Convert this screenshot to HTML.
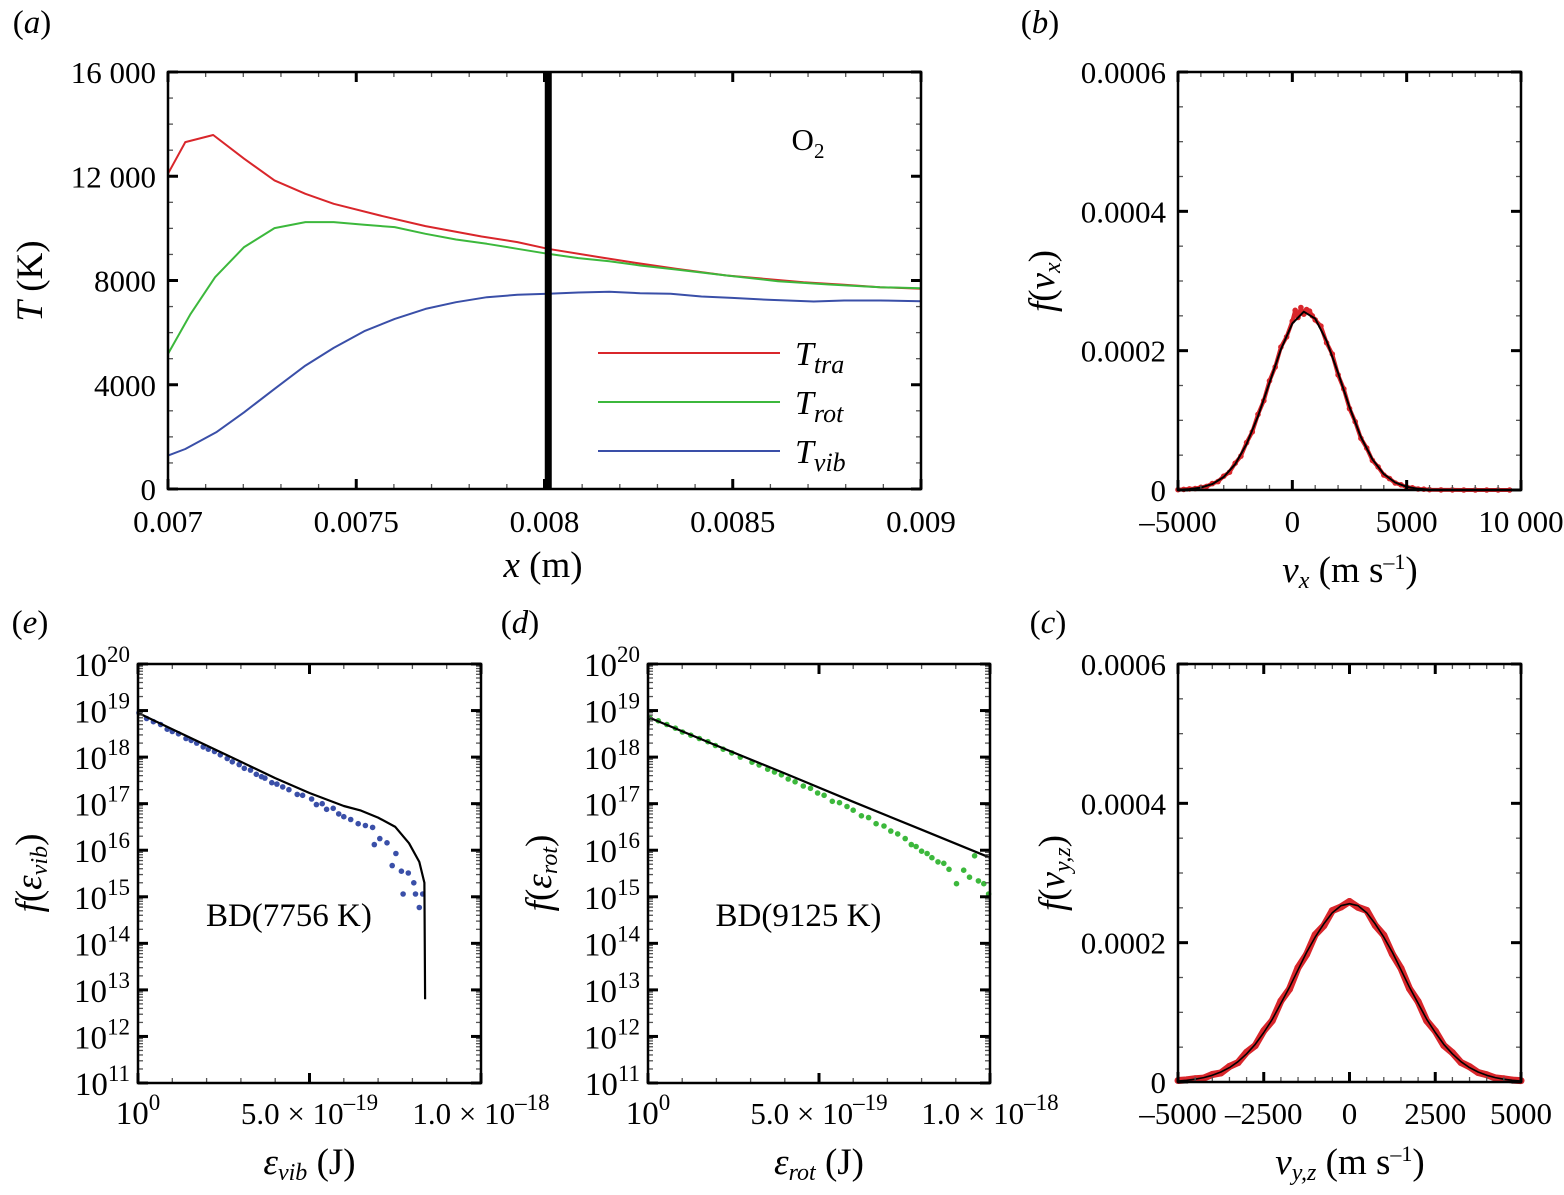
<!DOCTYPE html>
<html><head><meta charset="utf-8"><style>
body{margin:0;background:#fff;}
svg{display:block;font-family:"Liberation Serif",serif;}
</style></head><body>
<svg id="fig" width="1564" height="1195" viewBox="0 0 1564 1195" xmlns="http://www.w3.org/2000/svg"></svg>
<script>
// ---- Panel (a) data ----
const aX_tra=[0.007,0.007046,0.00712,0.007202,0.007283,0.007365,0.00744,0.007562,0.007684,0.007833,0.007928,0.008009,0.008145,0.00824,0.008349,0.008484,0.008688,0.008796,0.008891,0.009];
const aT_tra=[12096,13312,13581,12672,11840,11328,10944,10496,10086,9690,9472,9216,8896,8678,8448,8192,7936,7834,7744,7680];
const aX_rot=[0.007,0.00706,0.007125,0.007202,0.007283,0.007365,0.00744,0.007521,0.007602,0.007684,0.007765,0.007847,0.007928,0.008009,0.00809,0.008172,0.008254,0.008349,0.008484,0.00862,0.008756,0.008891,0.009];
const aT_rot=[5184,6720,8128,9280,10010,10240,10240,10138,10048,9792,9574,9408,9216,9024,8858,8742,8576,8422,8192,7974,7846,7744,7706];
const aX_vib=[0.007,0.007046,0.007128,0.007202,0.007283,0.007365,0.00744,0.007521,0.007602,0.007684,0.007765,0.007847,0.007928,0.008009,0.00809,0.008172,0.008254,0.008335,0.008417,0.008498,0.008593,0.008715,0.008796,0.008891,0.009];
const aT_vib=[1280,1536,2176,2944,3840,4736,5414,6054,6528,6912,7168,7360,7450,7488,7539,7565,7514,7488,7386,7334,7258,7194,7232,7232,7206];
const aShockX=0.00801;
const aYTicks=[0,4000,8000,12000,16000];
const aYTickLabels=["0","4000","8000","12 000","16 000"];
const aXTicks=[0.007,0.0075,0.008,0.0085,0.009];
const aXTickLabels=["0.007","0.0075","0.008","0.0085","0.009"];
// ---- Panel (b) data (units 1e-6) ----
const bV=[-5000,-4500,-4000,-3500,-3000,-2500,-2000,-1500,-1000,-500,0,500,1000,1500,2000,2500,3000,3500,4000,4500,5000,5500,6000,6500,7000,7500,8000,8500,9000,9500];
const bFit=[0.4,1.3,3.5,8.5,18.7,37,66,106,154,202,239,256,246,214,168,119,76,44,22.8,10.7,4.6,1.7,0.6,0.1,0,0,0,0,0,0];
const bDotV=[-5000,-4750,-4500,-4250,-4000,-3750,-3500,-3250,-3000,-2750,-2500,-2250,-2000,-1750,-1500,-1250,-1000,-750,-500,-250,0,125,250,375,500,625,750,875,1000,1250,1500,1750,2000,2250,2500,2750,3000,3250,3500,3750,4000,4250,4500,4750,5000,5250,5500,5750,6000,6500,7000,7500,8000,8500,9000,9500];
const bDotF=[0.5,0.9,1.6,2.0,3.9,5.1,9.2,12.0,19.8,25.5,38.5,48.6,68.0,83.4,108.5,128.2,156.8,176.5,205.1,219.8,242.3,258,247.6,262,252.4,259,256.8,250,244.1,235.2,211.3,195.0,165.2,145.1,116.8,98.1,74.2,60.3,42.5,33.1,21.6,16.4,10.1,7.5,4.2,3.1,1.5,1.1,0.5,0.2,0.1,0,0,0,0,0];
// ---- Panel (c) data (units 1e-6) ----
const cV=[-5000,-4750,-4500,-4250,-4000,-3750,-3500,-3250,-3000,-2750,-2500,-2250,-2000,-1750,-1500,-1250,-1000,-750,-500,-250,0,250,500,750,1000,1250,1500,1750,2000,2250,2500,2750,3000,3250,3500,3750,4000,4250,4500,4750,5000];
const cFit=[1.5,2.5,4.0,6.3,9.6,14.3,20.7,29.2,40.5,54,71,90,113,136,161,186,208,227,243,253,256,253,243,227,208,186,161,136,113,90,71,54,40.5,29.2,20.7,14.3,9.6,6.3,4.0,2.5,1.5];
const cDotF=[2.1,3.0,4.8,5.6,10.8,13.1,22.4,27.9,42.6,52.2,73.5,88.1,116.2,133.4,164.0,183.1,211.5,224.3,246.0,251.2,259.1,250.8,246.3,224.9,210.7,183.5,163.2,133.9,115.4,87.8,73.0,52.6,42.0,28.0,21.9,13.6,10.4,5.9,4.6,2.7,2.0];
// ---- Panel (e) data (eps in 1e-19 J, log10 f) ----
const eFitEps=[0,1,2,3,4,5,6,6.5,7,7.5,7.9,8.2,8.35,8.37];
const eFitLog=[18.95,18.6,18.25,17.9,17.55,17.23,16.95,16.85,16.7,16.5,16.15,15.75,15.3,12.8];
const eDotEps=[0.03,0.25,0.45,0.66,0.85,1.0,1.18,1.4,1.55,1.71,1.9,2.05,2.23,2.4,2.6,2.75,2.95,3.1,3.28,3.45,3.6,3.7,3.9,4.05,4.22,4.4,4.64,4.8,5.06,5.2,5.37,5.5,5.69,5.85,6.0,6.2,6.42,6.63,6.84,6.89,7.05,7.26,7.41,7.52,7.68,7.73,7.88,8.04,8.09,8.2,8.3];
const eDotLog=[18.95,18.83,18.76,18.7,18.6,18.55,18.5,18.4,18.36,18.3,18.22,18.17,18.12,18.05,17.97,17.9,17.84,17.76,17.72,17.63,17.58,17.55,17.45,17.42,17.36,17.3,17.2,17.18,17.1,16.98,17.0,16.88,16.9,16.78,16.72,16.66,16.57,16.53,16.49,16.12,16.25,16.16,15.67,15.93,15.55,15.06,15.51,15.3,15.06,14.77,15.06];
// ---- Panel (d) data ----
const dFitEps=[0,0.03,2,4,6,8,10];
const dFitLog=[18.5,18.85,18.25,17.65,17.04,16.44,15.84];
const dDotEps=[0.05,0.3,0.55,0.8,1.01,1.25,1.5,1.75,1.97,2.2,2.45,2.7,3.04,3.25,3.5,3.7,3.9,4.1,4.3,4.54,4.75,4.96,5.15,5.39,5.6,5.82,6.0,6.24,6.45,6.67,6.9,7.1,7.3,7.52,7.7,7.84,8.0,8.16,8.3,8.48,8.65,8.8,9.02,9.23,9.4,9.55,9.66,9.82,9.96];
const dDotLog=[18.85,18.78,18.7,18.62,18.54,18.47,18.4,18.33,18.25,18.17,18.09,18.0,17.89,17.83,17.74,17.68,17.62,17.53,17.47,17.38,17.33,17.23,17.18,17.05,17.02,16.94,16.86,16.74,16.7,16.57,16.52,16.41,16.35,16.25,16.12,16.08,15.98,15.93,15.84,15.75,15.72,15.59,15.28,15.57,15.42,15.88,15.34,15.28,15.06];
const logTicks=[11,12,13,14,15,16,17,18,19,20];

const NS="http://www.w3.org/2000/svg";
const svg=document.getElementById('fig');
function mk(tag,attrs,parent){const e=document.createElementNS(NS,tag);for(const k in attrs)e.setAttribute(k,attrs[k]);(parent||svg).appendChild(e);return e;}
function lin(d0,d1,r0,r1){return v=>r0+(v-d0)/(d1-d0)*(r1-r0);}
function txt(x,y,s,size,anchor,name,italic){const t=mk('text',{x:x,y:y,'font-size':size,'text-anchor':anchor||'middle'});


if(italic)t.setAttribute('font-style','italic');t.innerHTML=s;return t;}
function box(L,T,R,B,name){const r=mk('rect',{x:L,y:T,width:R-L,height:B-T,fill:'none',stroke:'#000','stroke-width':2.5});

}
function tick(x1,y1,x2,y2,w,col){const l=mk('line',{x1:x1,y1:y1,x2:x2,y2:y2,stroke:col||'#000','stroke-width':w});

}
function poly(xs,ys,sx,sy,col,w,name){const p=xs.map((v,i)=>sx(v).toFixed(1)+','+sy(ys[i]).toFixed(1)).join(' ');
const e=mk('polyline',{points:p,fill:'none',stroke:col,'stroke-width':w,'stroke-linejoin':'round'});

}
function dots(xs,ys,sx,sy,col,r,name){const g=mk('g',{fill:col});


xs.forEach((v,i)=>{const c=mk('circle',{cx:sx(v).toFixed(1),cy:sy(ys[i]).toFixed(1),r:r},g);

});}
function linTicks(L,T,R,B,sx,sy,xmaj,xmin,ymaj,ymin){
 xmin.forEach(v=>{const x=sx(v);tick(x,B,x,B-5,1.3,'#555');tick(x,T,x,T+5,1.3,'#555');});
 ymin.forEach(v=>{const y=sy(v);tick(L,y,L+5,y,1.3,'#555');tick(R,y,R-5,y,1.3,'#555');});
 xmaj.forEach(v=>{const x=sx(v);tick(x,B,x,B-10,3);tick(x,T,x,T+10,3);});
 ymaj.forEach(v=>{const y=sy(v);tick(L,y,L+10,y,3);tick(R,y,R-10,y,3);});}
function range(a,b,s){const r=[];for(let v=a;v<=b+1e-12;v+=s)r.push(+v.toFixed(10));return r;}

// ===== Panel (a) =====
{const L=168,T=72,R=921,B=489;const sx=lin(0.007,0.009,L,R),sy=lin(0,16000,B,T);
txt(32,33,'(<tspan font-style="italic">a</tspan>)',33,'middle','panel-label-a');
poly(aX_tra,aT_tra,sx,sy,'#d9262b',2,'line-t-tra');
poly(aX_rot,aT_rot,sx,sy,'#3cb83c',2,'line-t-rot');
poly(aX_vib,aT_vib,sx,sy,'#3a4fa8',2,'line-t-vib');
const sl=mk('line',{x1:sx(aShockX),y1:T,x2:sx(aShockX),y2:B,stroke:'#000','stroke-width':7});


linTicks(L,T,R,B,sx,sy,aXTicks,range(0.007,0.009,0.0001),aYTicks,range(0,16000,1000));
box(L,T,R,B,'plot-area-a');
aYTicks.forEach((v,i)=>txt(156,sy(v)+11,aYTickLabels[i],31,'end','y-tick-label'));
aXTicks.forEach((v,i)=>txt(sx(v),532,aXTickLabels[i],31,'middle','x-tick-label'));
txt(543,577,'<tspan font-style="italic">x</tspan> (m)',37,'middle','x-axis-title-a');
const yt=txt(0,0,'<tspan font-style="italic">T</tspan> (K)',37,'middle','y-axis-title-a');yt.setAttribute('transform','translate(42,281) rotate(-90)');
txt(808,150,'O<tspan font-size="21" dy="8">2</tspan>',31,'middle','species-label');
const leg=[['#d9262b','tra',353],['#3cb83c','rot',402],['#3a4fa8','vib',451]];
leg.forEach(l=>{const e=mk('line',{x1:598,y1:l[2],x2:780,y2:l[2],stroke:l[0],'stroke-width':2});


txt(795,l[2]+12,'T<tspan font-size="26" dy="8">'+l[1]+'</tspan>',34,'start','legend-label-'+l[1],true);});}

// ===== Panel (b) =====
{const L=1178,T=72,R=1521,B=490;const sx=lin(-5000,10000,L,R),sy=lin(0,600,B,T);
txt(1040,33,'(<tspan font-style="italic">b</tspan>)',33,'middle','panel-label-b');
poly(bDotV,bDotF,sx,sy,'#d9262b',4,'scatter-band-b');
dots(bDotV,bDotF,sx,sy,'#d9262b',2.8,'scatter-vx');
poly(bV,bFit,sx,sy,'#000',2,'fit-line-vx');
linTicks(L,T,R,B,sx,sy,[-5000,0,5000,10000],range(-5000,10000,1000),[0,200,400,600],range(0,600,50));
box(L,T,R,B,'plot-area-b');
[[0,'0'],[200,'0.0002'],[400,'0.0004'],[600,'0.0006']].forEach(t=>txt(1166,sy(t[0])+11,t[1],31,'end','y-tick-label'));
[[-5000,'–5000'],[0,'0'],[5000,'5000'],[10000,'10 000']].forEach(t=>txt(sx(t[0]),532,t[1],31,'middle','x-tick-label'));
txt(1350,582,'<tspan font-style="italic">v<tspan font-size="24" dy="6">x</tspan></tspan><tspan dy="-6"> (m s</tspan><tspan font-size="22" dy="-13">–1</tspan><tspan dy="13">)</tspan>',37,'middle','x-axis-title-b');
const yt=txt(0,0,'<tspan font-style="italic">f</tspan>(<tspan font-style="italic">v<tspan font-size="24" dy="6">x</tspan></tspan><tspan dy="-6">)</tspan>',37,'middle','y-axis-title-b');yt.setAttribute('transform','translate(1054,281) rotate(-90)');}

// ===== Panel (c) =====
{const L=1178,T=664,R=1521,B=1082;const sx=lin(-5000,5000,L,R),sy=lin(0,600,B,T);
txt(1048,633,'(<tspan font-style="italic">c</tspan>)',33,'middle','panel-label-c');
poly(cV,cDotF,sx,sy,'#d9262b',7,'scatter-band-c');
dots(cV,cDotF,sx,sy,'#d9262b',3.5,'scatter-vyz');
poly(cV,cFit,sx,sy,'#000',1.6,'fit-line-vyz');
linTicks(L,T,R,B,sx,sy,[-5000,-2500,0,2500,5000],range(-5000,5000,500),[0,200,400,600],range(0,600,50));
box(L,T,R,B,'plot-area-c');
[[0,'0'],[200,'0.0002'],[400,'0.0004'],[600,'0.0006']].forEach(t=>txt(1166,sy(t[0])+11,t[1],31,'end','y-tick-label'));
[[-5000,'–5000'],[-2500,'–2500'],[0,'0'],[2500,'2500'],[5000,'5000']].forEach(t=>txt(sx(t[0]),1124,t[1],31,'middle','x-tick-label'));
txt(1350,1174,'<tspan font-style="italic">v<tspan font-size="24" dy="6">y,z</tspan></tspan><tspan dy="-6"> (m s</tspan><tspan font-size="22" dy="-13">–1</tspan><tspan dy="13">)</tspan>',37,'middle','x-axis-title-c');
const yt=txt(0,0,'<tspan font-style="italic">f</tspan>(<tspan font-style="italic">v<tspan font-size="24" dy="6">y,z</tspan></tspan><tspan dy="-6">)</tspan>',37,'middle','y-axis-title-c');yt.setAttribute('transform','translate(1064,873) rotate(-90)');}

// ===== Log panels =====
function logPanel(L,R,lab,labX,fE,fL,dE,dL,col,sub,bd,id){
 const T=664,B=1083;const sx=lin(0,10,L,R),sy=lin(11,20,B,T);
 txt(labX,633,'(<tspan font-style="italic">'+lab+'</tspan>)',33,'middle','panel-label-'+lab);
 dots(dE,dL,sx,sy,col,2.8,'scatter-'+id);
 poly(fE,fL,sx,sy,'#000',2.2,'fit-line-'+id);
 const ymin=[];for(let d=11;d<20;d++)for(let k=2;k<10;k++)ymin.push(d+Math.log10(k));
 linTicks(L,T,R,B,sx,sy,[0,5,10],range(0,10,1),logTicks,ymin);
 box(L,T,R,B,'plot-area-'+lab);
 logTicks.forEach(v=>txt(L-8,sy(v)+12,'10<tspan font-size="23" dy="-14">'+v+'</tspan>',33,'end','y-tick-label'));
 txt(L,1124,'10<tspan font-size="23" dy="-14">0</tspan>',33,'middle','x-tick-label');
 txt(sx(5),1124,'5.0 × 10<tspan font-size="23" dy="-14">–19</tspan>',31,'middle','x-tick-label');
 txt(sx(10),1124,'1.0 × 10<tspan font-size="23" dy="-14">–18</tspan>',31,'middle','x-tick-label');
 txt((L+R)/2,1174,'<tspan font-style="italic">ε<tspan font-size="24" dy="6">'+sub+'</tspan></tspan><tspan dy="-6"> (J)</tspan>',37,'middle','x-axis-title-'+lab);
 const yt=txt(0,0,'<tspan font-style="italic">f</tspan>(<tspan font-style="italic">ε<tspan font-size="24" dy="6">'+sub+'</tspan></tspan><tspan dy="-6">)</tspan>',37,'middle','y-axis-title-'+lab);
 yt.setAttribute('transform','translate('+(L-97)+',873) rotate(-90)');
 txt(L+(R-L)*0.44,926,bd,33,'middle','bd-label-'+lab);}
logPanel(138,481,'e',30,eFitEps,eFitLog,eDotEps,eDotLog,'#3a4fa8','vib','BD(7756 K)','vib');
logPanel(648,990,'d',520,dFitEps,dFitLog,dDotEps,dDotLog,'#3cb83c','rot','BD(9125 K)','rot');
</script>
</body></html>
